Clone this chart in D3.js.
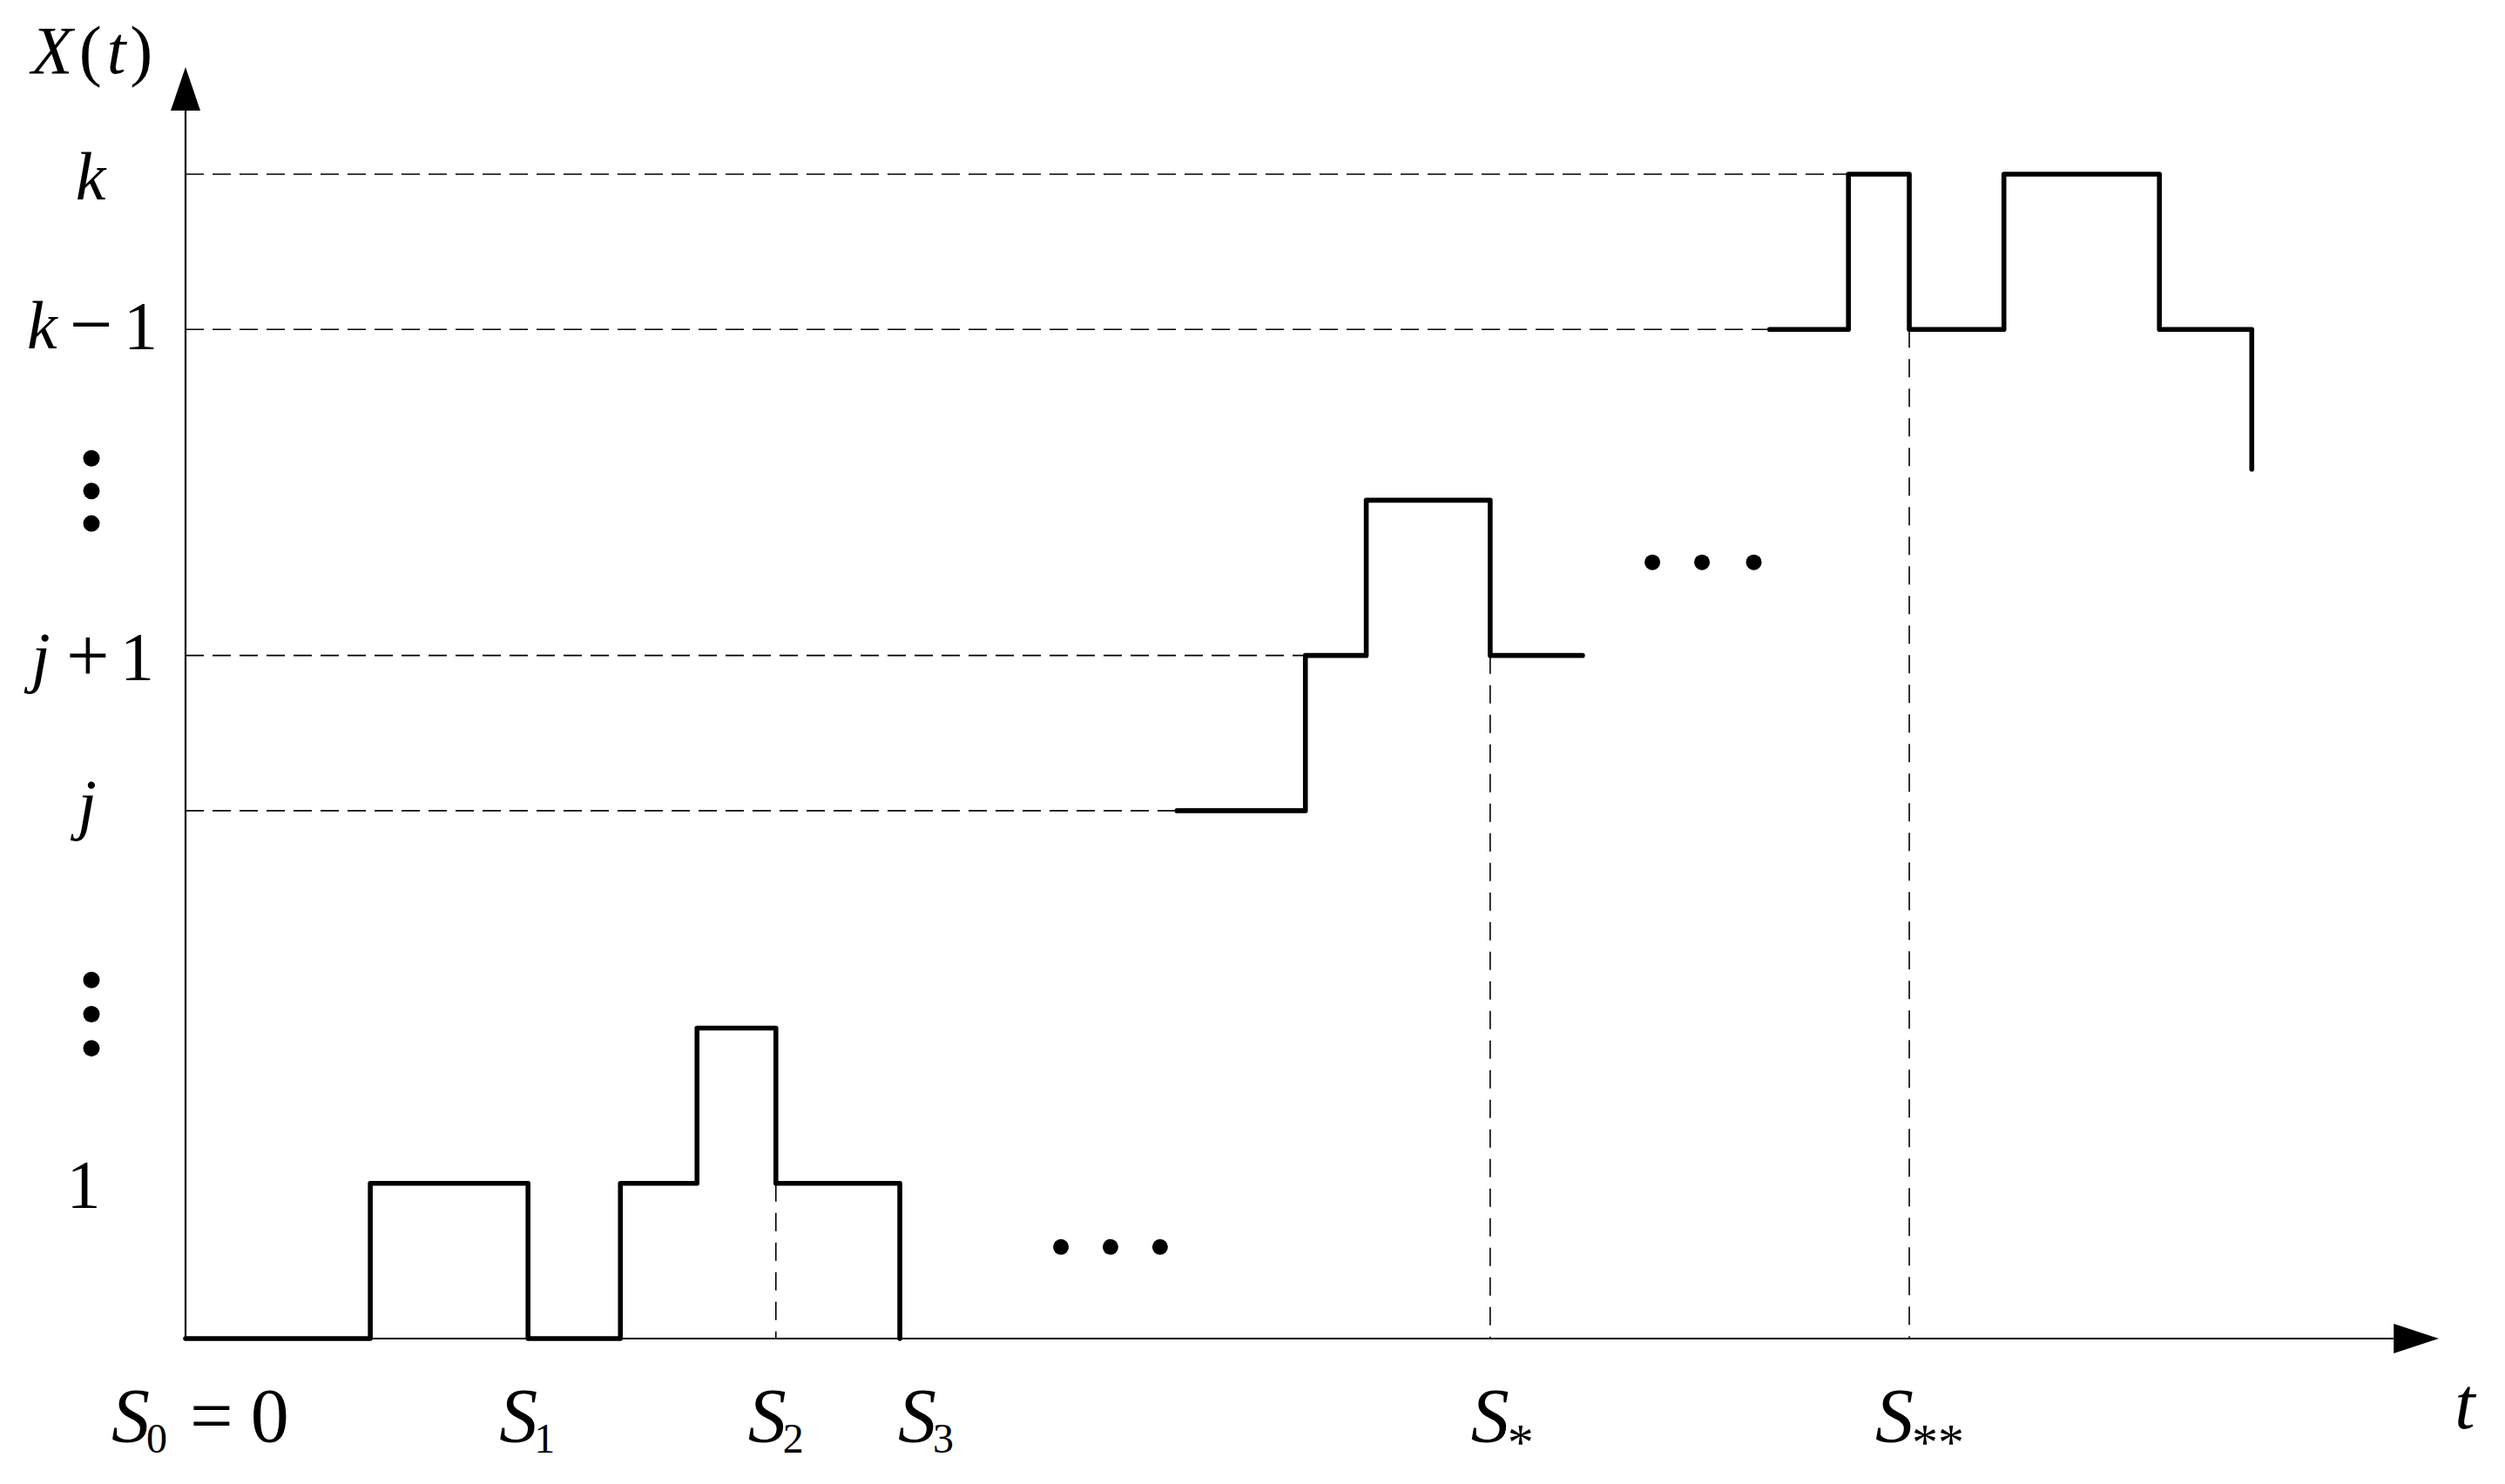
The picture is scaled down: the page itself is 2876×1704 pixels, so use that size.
<!DOCTYPE html>
<html><head><meta charset="utf-8">
<script src="https://cdn.jsdelivr.net/npm/d3@7"></script>
<style>html,body{margin:0;padding:0;background:#fff;}svg{display:block;}</style>
</head><body>
<script>
// ---- data ----
const seg1T = [0, 8.2, 15.2, 19.3, 22.7, 26.2, 31.7];
const seg1V = [0, 1, 0, 1, 2, 1, 0];
const seg2T = [44.0, 49.7, 52.4, 57.9, 62.0];
const seg2V = [3.4, 4.4, 5.4, 4.4, 4.4];
const seg3T = [70.3, 73.8, 76.5, 80.7, 87.6, 91.7];
const seg3V = [6.5, 7.5, 6.5, 7.5, 6.5, 5.6];

const levelVar = ["", "j", "j", "k", "k"];
const levelOp = ["", "", "+", "\u2212", ""];
const levelNum = ["1", "", "1", "1", ""];
const levelValues = [1, 3.4, 4.4, 6.5, 7.5];
// horizontal guide lines: level and where they end (time)
const guideLevels = [3.4, 4.4, 6.5, 7.5];
const guideEnds = [44.0, 49.7, 70.3, 73.8];
// vertical guide lines: time and level they start from
const vGuideT = [26.2, 57.9, 76.5];
const vGuideV = [1, 4.4, 6.5];

const timeLabelMain = ["S", "S", "S", "S", "S", "S"];
const timeLabelSub = ["0", "1", "2", "3", "*", "**"];
const timeLabelSuffix = ["=", "", "", "", "", ""];
const timeLabelSuffix2 = ["0", "", "", "", "", ""];
const timeLabelT = [0, 15.2, 26.2, 31.7, 57.9, 76.5];

const vDotsV = [5.67, 5.46, 5.25, 2.31, 2.09, 1.87];
const hDotsT = [38.85, 41.05, 43.25, 65.1, 67.3, 69.6];
const hDotsV = [0.59, 0.59, 0.59, 5.0, 5.0, 5.0];

// ---- layout ----
const W = 2876, H = 1704;
const x = d3.scaleLinear().domain([0, 100]).range([213, 2800]);
const y = d3.scaleLinear().domain([0, 7.5]).range([1537, 200]);
const serif = "'Liberation Serif','Times New Roman',serif";

const svg = d3.select("body").append("svg").attr("width", W).attr("height", H);

// guides
svg.append("g").selectAll("line").data(guideLevels).join("line")
  .attr("x1", x(0)).attr("x2", (d, i) => x(guideEnds[i]))
  .attr("y1", d => y(d)).attr("y2", d => y(d))
  .attr("stroke", "#000").attr("stroke-width", 1.6).attr("stroke-dasharray", "21,10");
svg.append("g").selectAll("line").data(vGuideT).join("line")
  .attr("x1", d => x(d)).attr("x2", d => x(d))
  .attr("y1", (d, i) => y(vGuideV[i])).attr("y2", y(0))
  .attr("stroke", "#000").attr("stroke-width", 1.6).attr("stroke-dasharray", "21,13");

// axes
const yTop = 8.19, yArrowBase = 7.91, xArrowBase = 98.0, xEnd = 100;
svg.append("line").attr("x1", x(0)).attr("x2", x(0)).attr("y1", y(0)).attr("y2", y(yArrowBase))
  .attr("stroke", "#000").attr("stroke-width", 2.2);
svg.append("path").attr("d", `M${x(0)},${y(yTop)} L${x(0) - 17},${y(yArrowBase)} L${x(0) + 17},${y(yArrowBase)} Z`).attr("fill", "#000");
svg.append("line").attr("x1", x(0)).attr("x2", x(xArrowBase)).attr("y1", y(0)).attr("y2", y(0))
  .attr("stroke", "#000").attr("stroke-width", 2.2);
svg.append("path").attr("d", `M${x(xEnd)},${y(0)} L${x(xArrowBase)},${y(0) - 17} L${x(xArrowBase)},${y(0) + 17} Z`).attr("fill", "#000");

// step paths
const line = d3.line().x(d => x(d[0])).y(d => y(d[1])).curve(d3.curveStepAfter);
[[seg1T, seg1V], [seg2T, seg2V], [seg3T, seg3V]].forEach(([T, V]) => {
  svg.append("path").attr("d", line(T.map((t, i) => [t, V[i]])))
    .attr("fill", "none").attr("stroke", "#000").attr("stroke-width", 5.6)
    .attr("stroke-linejoin", "round").attr("stroke-linecap", "round");
});

// dots
svg.append("g").selectAll("circle").data(vDotsV).join("circle")
  .attr("cx", 105).attr("cy", d => y(d)).attr("r", 9.5).attr("fill", "#000");
svg.append("g").selectAll("circle").data(hDotsT).join("circle")
  .attr("cx", d => x(d)).attr("cy", (d, i) => y(hDotsV[i])).attr("r", 9).attr("fill", "#000");

// y labels (layout offsets)
const ylBase = [27, 18, 27, 22, 29];
const ylVarX = [0, 100, 36, 31, 104];
const ylOpX = [0, 0, 80, 84, 0];
const ylNumX = [102, 0, 144, 148, 0];
const yl = svg.append("g").attr("font-family", serif).attr("font-size", 78);
levelValues.forEach((v, i) => {
  const by = y(v) + ylBase[i];
  const single = !levelOp[i];
  if (levelVar[i]) yl.append("text").attr("font-style", "italic")
    .attr("text-anchor", single ? "middle" : "start")
    .attr("x", ylVarX[i]).attr("y", by).text(levelVar[i]);
  if (levelOp[i]) yl.append("text").attr("font-size", 88).attr("x", ylOpX[i] - 4).attr("y", by + 2).text(levelOp[i]);
  if (levelNum[i]) yl.append("text").attr("text-anchor", single ? "middle" : "start")
    .attr("x", ylNumX[i] - 6).attr("y", by).text(levelNum[i]);
});

// axis titles
const xt = svg.append("text").attr("font-family", serif).attr("font-size", 78).attr("x", 36).attr("y", 84);
xt.append("tspan").attr("font-style", "italic").text("X");
xt.append("tspan").attr("dx", 7).text("(");
xt.append("tspan").attr("dx", 6).attr("font-style", "italic").text("t");
xt.append("tspan").attr("dx", 5).text(")");
svg.append("text").attr("font-family", serif).attr("font-size", 84).attr("font-style", "italic")
  .attr("text-anchor", "middle").attr("x", 2830).attr("y", 1640).text("t");

// time labels (layout offsets: left edge of S relative to tick)
const tlOffset = [-85, -33, -32, -2, -22, -39];
const tl = svg.append("g").attr("font-family", serif).attr("font-size", 88);
timeLabelT.forEach((t, i) => {
  const isStar = timeLabelSub[i].includes("*");
  const tx = tl.append("text").attr("x", x(t) + tlOffset[i]).attr("y", 1655);
  tx.append("tspan").attr("font-style", "italic").text(timeLabelMain[i]);
  tx.append("tspan").attr("font-size", isStar ? 60 : 48).attr("dx", isStar ? -2 : -4)
    .attr("dy", isStar ? 21 : 13).text(timeLabelSub[i]);
  if (timeLabelSuffix[i]) {
    tx.append("tspan").attr("dx", 26).attr("dy", -13).text(timeLabelSuffix[i]);
    tx.append("tspan").attr("dx", 20).text(timeLabelSuffix2[i]);
  }
});
</script>
</body></html>
